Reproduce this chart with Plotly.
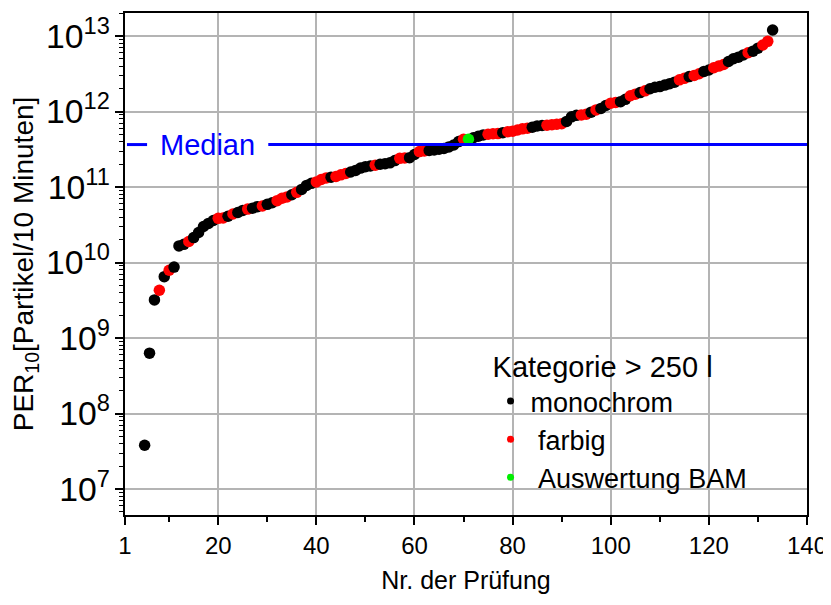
import math
import plotly.graph_objects as go

PRUEFUNG = [5, 6, 7, 8, 9, 10, 11, 12, 13, 14, 15, 16, 17, 18, 19, 20, 21, 22, 23, 24,
            25, 26, 27, 28, 29, 30, 31, 32, 33, 34, 35, 36, 37, 38, 39, 40, 41, 42, 43, 44,
            45, 46, 47, 48, 49, 50, 51, 52, 53, 54, 55, 56, 57, 58, 59, 60, 61, 62, 63, 64,
            65, 66, 67, 68, 69, 70, 71, 72, 73, 74, 75, 76, 77, 78, 79, 80, 81, 82, 83, 84,
            85, 86, 87, 88, 89, 90, 91, 92, 93, 94, 95, 96, 97, 98, 99, 100, 101, 102, 103, 104,
            105, 106, 107, 108, 109, 110, 111, 112, 113, 114, 115, 116, 117, 118, 119, 120, 121, 122, 123, 124,
            125, 126, 127, 128, 129, 130, 131, 132, 133]

PER10 = [3.8e7, 6.3e8, 3.2e9, 4.3e9, 6.5e9, 7.9e9, 8.7e9, 1.66e10, 1.74e10, 1.9e10,
         2.14e10, 2.5e10, 3.0e10, 3.3e10, 3.6e10, 3.85e10, 3.9e10, 4.1e10, 4.4e10, 4.6e10,
         4.9e10, 5.1e10, 5.25e10, 5.5e10, 5.6e10, 5.9e10, 6.2e10, 6.6e10, 7.1e10, 7.4e10,
         7.9e10, 8.5e10, 9.3e10, 1.05e11, 1.12e11, 1.17e11, 1.26e11, 1.32e11, 1.35e11, 1.38e11,
         1.45e11, 1.51e11, 1.58e11, 1.66e11, 1.78e11, 1.86e11, 1.9e11, 1.95e11, 2.0e11, 2.04e11,
         2.09e11, 2.24e11, 2.4e11, 2.42e11, 2.45e11, 2.7e11, 2.95e11, 3.0e11, 3.05e11, 3.1e11,
         3.16e11, 3.24e11, 3.4e11, 3.6e11, 4.0e11, 4.3e11, 4.3e11, 4.5e11, 4.7e11, 4.9e11,
         5.0e11, 5.07e11, 5.1e11, 5.25e11, 5.4e11, 5.5e11, 5.7e11, 5.9e11, 6.0e11, 6.2e11,
         6.45e11, 6.53e11, 6.6e11, 6.7e11, 6.8e11, 6.9e11, 7.4e11, 8.5e11, 8.9e11, 9.0e11,
         9.2e11, 9.8e11, 1.05e12, 1.1e12, 1.2e12, 1.29e12, 1.32e12, 1.35e12, 1.45e12, 1.62e12,
         1.7e12, 1.78e12, 1.88e12, 2.0e12, 2.1e12, 2.14e12, 2.24e12, 2.34e12, 2.45e12, 2.63e12,
         2.75e12, 2.9e12, 3.0e12, 3.16e12, 3.4e12, 3.55e12, 3.8e12, 4.0e12, 4.2e12, 4.6e12,
         5.0e12, 5.25e12, 5.6e12, 6.0e12, 6.3e12, 6.9e12, 7.6e12, 8.5e12, 1.2e13]

# m = monochrom, f = farbig, b = Auswertung BAM
KATEGORIE = ["m", "m", "m", "f", "m", "f", "m", "m", "m", "f",
             "m", "m", "m", "m", "m", "f", "f", "m", "f", "m",
             "m", "f", "m", "m", "f", "m", "m", "f", "f", "f",
             "m", "f", "m", "m", "m", "f", "f", "f", "m", "f",
             "f", "f", "m", "m", "m", "m", "m", "f", "m", "m",
             "m", "m", "f", "f", "m", "m", "f", "f", "m", "m",
             "m", "m", "m", "m", "m", "f", "b", "m", "m", "m",
             "f", "f", "f", "m", "f", "f", "f", "f", "f", "m",
             "m", "m", "f", "f", "f", "f", "m", "m", "m", "f",
             "f", "m", "f", "m", "m", "f", "f", "m", "m", "f",
             "f", "m", "f", "m", "m", "m", "m", "m", "m", "f",
             "f", "m", "f", "f", "m", "m", "f", "f", "f", "m",
             "m", "m", "m", "f", "m", "m", "f", "f", "m"]

LEGEND_NAMES = {"m": "monochrom", "f": "\u00a0farbig", "b": "\u00a0Auswertung BAM"}
LEGEND_TITLE = "Kategorie > 250 l"
MEDIAN = 3.65e11
X_TICKS = [1, 20, 40, 60, 80, 100, 120, 140]
X_MINOR = [10, 30, 50, 70, 90, 110, 130]

COLORS = {"m": "#000000", "f": "#ff0000", "b": "#00ee00"}
FONT = "Liberation Sans, Arial, sans-serif"

fig = go.Figure()

# monochrom / farbig points in test order, then the BAM point on top
for keep in (lambda k: k != "b", lambda k: k == "b"):
    idx = [i for i, k in enumerate(KATEGORIE) if keep(k)]
    fig.add_trace(go.Scatter(
        x=[PRUEFUNG[i] for i in idx], y=[PER10[i] for i in idx], mode="markers",
        marker=dict(color=[COLORS[KATEGORIE[i]] for i in idx], size=11.5, line=dict(width=0)),
        showlegend=False, hoverinfo="x+y"))

for k in ["m", "f", "b"]:
    fig.add_trace(go.Scatter(
        x=[None], y=[None], mode="markers", name=LEGEND_NAMES[k],
        marker=dict(color=COLORS[k], size=7, line=dict(width=0))))

blue = "#0000ff"
fig.add_trace(go.Scatter(x=[1.4, 5.5], y=[MEDIAN, MEDIAN], mode="lines",
                         line=dict(color=blue, width=3), showlegend=False, hoverinfo="skip"))
fig.add_trace(go.Scatter(x=[30.2, 140], y=[MEDIAN, MEDIAN], mode="lines",
                         line=dict(color=blue, width=3), showlegend=False, hoverinfo="skip"))

fig.add_annotation(x=17.8, y=math.log10(MEDIAN), xref="x", yref="y", text="Median",
                   showarrow=False, font=dict(family=FONT, size=29, color=blue))

# the page body has an 8px margin, so the figure is 8px smaller on each side
fig.update_layout(
    width=823, height=597,
    margin=dict(l=117, r=24, t=5, b=90, autoexpand=False),
    paper_bgcolor="white", plot_bgcolor="white",
    font=dict(family=FONT, color="black"),
    showlegend=True,
    legend=dict(x=0.536, y=0.35, xanchor="left", yanchor="top",
                bgcolor="rgba(0,0,0,0)", borderwidth=0,
                font=dict(family=FONT, size=27, color="black"),
                title=dict(text=LEGEND_TITLE, font=dict(family=FONT, size=29, color="black")),
                tracegroupgap=0, itemwidth=30),
)

fig.update_xaxes(
    range=[1, 140], tickmode="array", tickvals=X_TICKS, ticktext=[str(v) for v in X_TICKS],
    ticks="outside", ticklen=8, tickwidth=1.5, tickcolor="black",
    showline=True, linecolor="black", linewidth=1.5, mirror=True,
    showgrid=True, gridcolor="#b4b4b4", gridwidth=1.5, zeroline=False,
    minor=dict(tickvals=X_MINOR, ticks="outside", ticklen=5, tickwidth=1.5,
               tickcolor="black", showgrid=False),
    tickfont=dict(family=FONT, size=24, color="black"),
    title=dict(text="Nr. der Prüfung", font=dict(family=FONT, size=25, color="black"), standoff=14),
    automargin=False,
)

fig.update_yaxes(
    type="log", range=[6.656, 13.305], dtick=1, exponentformat="power",
    ticks="outside", ticklen=8, tickwidth=1.5, tickcolor="black",
    showline=True, linecolor="black", linewidth=1.5, mirror=True,
    showgrid=True, gridcolor="#b4b4b4", gridwidth=1.5, zeroline=False,
    minor=dict(dtick="D1", ticks="outside", ticklen=4, tickwidth=1,
               tickcolor="black", showgrid=False),
    tickfont=dict(family=FONT, size=27, color="black"),
    title=dict(text="PER<sub>10</sub>[Partikel/10 Minuten]",
               font=dict(family=FONT, size=28, color="black"), standoff=10),
    automargin=False,
)

fig.write_html("out.html")
